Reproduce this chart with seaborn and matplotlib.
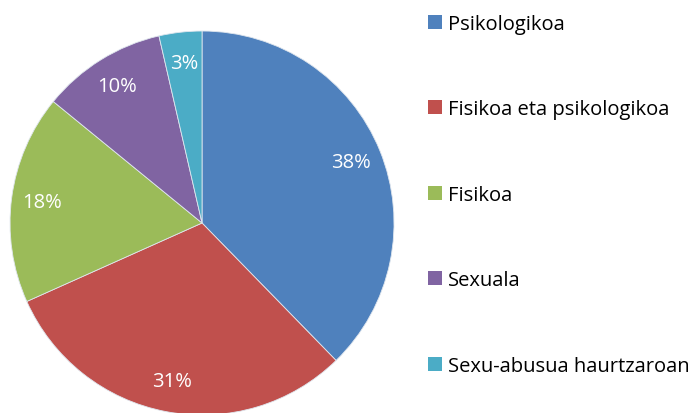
import matplotlib
matplotlib.use('Agg')
import matplotlib.pyplot as plt
import seaborn as sns
from matplotlib.patches import Patch

# ---- data ----
categories = ['Psikologikoa', 'Fisikoa eta psikologikoa', 'Fisikoa', 'Sexuala', 'Sexu-abusua haurtzaroan']
shares = [37.7, 30.6, 17.6, 10.5, 3.6]          # slice sizes
pct_labels = ['38%', '31%', '18%', '10%', '3%']  # labels as printed
colors = ['#4F81BD', '#C0504D', '#9BBB59', '#8064A2', '#4BACC6']

sns.set_theme(style='white')
plt.rcParams['font.family'] = ['Open Sans', 'DejaVu Sans']

fig = plt.figure(figsize=(6.97, 4.14), dpi=100)
ax = fig.add_axes([0.01435, -0.00483, 0.551, 0.9275])

palette = sns.color_palette(colors)
label_iter = iter(pct_labels)
wedges, texts, autotexts = ax.pie(
    shares,
    colors=palette,
    startangle=90,
    counterclock=False,
    autopct=lambda p: next(label_iter),
    pctdistance=0.84,
    radius=1,
    wedgeprops={'edgecolor': '#dfe6ee', 'linewidth': 0.6},
    textprops={'color': 'white', 'fontsize': 14.5},
)
ax.set_xlim(-1, 1)
ax.set_ylim(-1, 1)
ax.set_aspect('equal')
ax.axis('off')

handles = [Patch(facecolor=c, edgecolor='none') for c in colors]
fig.legend(
    handles, categories,
    loc='upper left',
    bbox_to_anchor=(428 / 697, 1 - 15 / 414),
    frameon=False,
    fontsize=14.5,
    labelspacing=3.25,
    handlelength=0.7,
    handleheight=0.7,
    handletextpad=0.3,
    borderpad=0,
    borderaxespad=0,
    labelcolor='#000000',
)

plt.savefig('out.png', dpi=100)
